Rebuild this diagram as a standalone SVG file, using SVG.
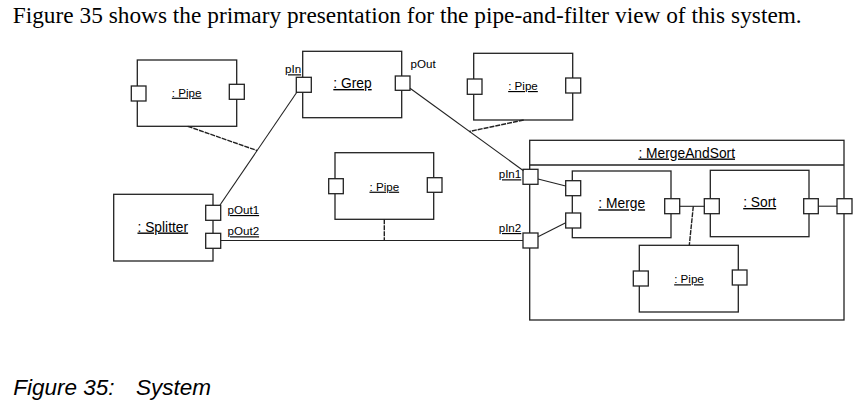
<svg xmlns="http://www.w3.org/2000/svg" width="862" height="406" viewBox="0 0 862 406">
<style>
  .box{fill:#fff;stroke:#222;stroke-width:1.3}
  .port{fill:#fff;stroke:#222;stroke-width:1.3}
  .ln{fill:none;stroke:#222;stroke-width:1.1}
  .dash{fill:none;stroke:#222;stroke-width:1.4;stroke-dasharray:5 1}
  .lbl{font-family:"Liberation Sans",Arial,sans-serif;font-size:13.8px;fill:#000;text-anchor:middle;text-decoration:underline}
  .pipe{font-family:"Liberation Sans",Arial,sans-serif;font-size:11.6px;fill:#000;text-anchor:middle;text-decoration:underline}
  .pl{font-family:"Liberation Sans",Arial,sans-serif;font-size:11.6px;fill:#000}
  .u{text-decoration:underline}
</style>
<rect width="862" height="406" fill="#fff"/>
<text x="12.7" y="23.3" font-family="'Liberation Serif','Times New Roman',serif" font-size="23.3px" textLength="789" lengthAdjust="spacing" fill="#000">Figure 35 shows the primary presentation for the pipe-and-filter view of this system.</text>

<g id="pipe1">
  <rect class="box" x="137.3" y="60" width="99.4" height="66.3"/>
  <rect class="port" x="131.3" y="86" width="14.7" height="15"/>
  <rect class="port" x="229.3" y="84.3" width="15" height="15"/>
  <text class="pipe" x="186.7" y="96.7">: Pipe</text>
</g>

<g id="grep">
  <rect class="box" x="302.7" y="51.3" width="99" height="66.4"/>
  <rect class="port" x="296.3" y="77.3" width="15" height="15"/>
  <rect class="port" x="395.3" y="76" width="14.7" height="14.3"/>
  <text class="lbl" x="352.5" y="88">: Grep</text>
  <text class="pl u" x="285" y="73.3">pIn</text>
  <text class="pl" x="410.5" y="68.3">pOut</text>
</g>

<g id="pipe2">
  <rect class="box" x="473.7" y="53.3" width="99" height="66.7"/>
  <rect class="port" x="467.3" y="79" width="14.7" height="15.3"/>
  <rect class="port" x="565.7" y="78" width="15" height="15"/>
  <text class="pipe" x="523" y="90">: Pipe</text>
</g>

<g id="pipe3">
  <rect class="box" x="335" y="152.7" width="98.7" height="66.6"/>
  <rect class="port" x="328.7" y="178.7" width="14.6" height="15"/>
  <rect class="port" x="427.3" y="177.7" width="14.7" height="14.6"/>
  <text class="pipe" x="384.3" y="190.7">: Pipe</text>
</g>

<g id="splitter">
  <rect class="box" x="113.7" y="194.3" width="99.3" height="66.7"/>
  <rect class="port" x="205.7" y="205.3" width="15" height="15"/>
  <rect class="port" x="205.7" y="233.3" width="15" height="15"/>
  <text class="lbl" x="162.8" y="231.5">: Splitter</text>
  <text class="pl u" x="227.5" y="214">pOut1</text>
  <text class="pl u" x="227.5" y="235.3">pOut2</text>
</g>

<g id="mergeandsort">
  <rect class="box" x="529.7" y="140.3" width="314.3" height="179.7"/>
  <line class="ln" x1="529.7" y1="165" x2="844" y2="165" style="stroke-width:1.3"/>
  <text class="lbl" x="686.7" y="157.5">: MergeAndSort</text>
  <rect class="port" x="523" y="169.3" width="15" height="15"/>
  <rect class="port" x="523" y="233" width="15" height="15"/>
  <rect class="port" x="837" y="198.7" width="15" height="15"/>
  <text class="pl u" x="498.7" y="178.3">pIn1</text>
  <text class="pl u" x="498.7" y="232">pIn2</text>
</g>

<g id="merge">
  <rect class="box" x="572.3" y="171" width="98.7" height="66.7"/>
  <rect class="port" x="565.7" y="180.7" width="15" height="15"/>
  <rect class="port" x="565.7" y="213" width="15" height="15"/>
  <rect class="port" x="664.7" y="198.7" width="15" height="15"/>
  <text class="lbl" x="621.7" y="208.3">: Merge</text>
</g>

<g id="sort">
  <rect class="box" x="710.3" y="170.3" width="98.7" height="66.4"/>
  <rect class="port" x="704.3" y="198.7" width="15" height="15"/>
  <rect class="port" x="803.7" y="198.7" width="14.6" height="15"/>
  <text class="lbl" x="759.7" y="207">: Sort</text>
</g>

<g id="pipe4">
  <rect class="box" x="639.3" y="245.3" width="99" height="66.7"/>
  <rect class="port" x="633.3" y="271" width="15" height="15"/>
  <rect class="port" x="732.3" y="270" width="14.7" height="15"/>
  <text class="pipe" x="689" y="283.3">: Pipe</text>
</g>

<g id="connectors">
  <line class="ln" x1="220" y1="205" x2="297" y2="92"/>
  <line class="dash" x1="187.7" y1="126.3" x2="257" y2="150.5"/>
  <line class="ln" x1="410" y1="88.3" x2="523.5" y2="170.7"/>
  <line class="dash" x1="523.7" y1="120" x2="469.3" y2="131.5"/>
  <line class="ln" x1="220.7" y1="240.5" x2="523" y2="240.5"/>
  <line class="dash" x1="384.3" y1="219.3" x2="384.3" y2="240.5"/>
  <line class="ln" x1="538" y1="179" x2="565.7" y2="186"/>
  <line class="ln" x1="538" y1="236.7" x2="565.7" y2="222.7"/>
  <line class="ln" x1="679.7" y1="206.3" x2="704.3" y2="206.3"/>
  <line class="dash" x1="693.3" y1="206.3" x2="689.3" y2="245.3"/>
  <line class="ln" x1="818.3" y1="206.2" x2="837" y2="206.2"/>
</g>

<text y="395" font-family="'Liberation Sans',Arial,sans-serif" font-size="22.5px" font-style="italic" fill="#000"><tspan x="13.3">Figure 35:</tspan><tspan x="136">System</tspan></text>
</svg>
